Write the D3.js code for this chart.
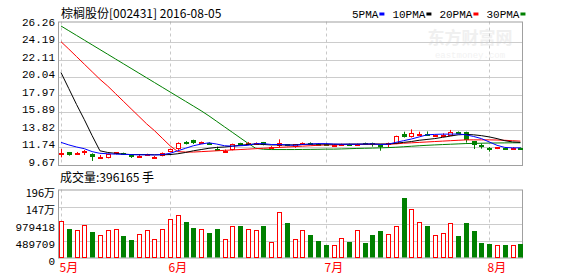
<!DOCTYPE html>
<html><head><meta charset="utf-8">
<script src="https://cdn.jsdelivr.net/npm/d3@7"></script>
<style>
html,body{margin:0;padding:0;background:#fff;}
svg{display:block;}
text{font-family:"Liberation Mono","DejaVu Sans Mono",monospace;}
.cjk{font-family:"Noto Sans CJK SC","Noto Sans",sans-serif;}
</style></head>
<body>
<svg id="c" width="578" height="276"></svg>
<script>
const title = "棕榈股份[002431] 2016-08-05";
const dates = ["05-12","05-13","05-16","05-17","05-18","05-19","05-20","05-23","05-24","05-25","05-26","05-27","05-30","05-31",
"06-01","06-02","06-03","06-06","06-07","06-08","06-13","06-14","06-15","06-16","06-17","06-20","06-21","06-22","06-23","06-24","06-27","06-28","06-29","06-30",
"07-01","07-04","07-05","07-06","07-07","07-08","07-11","07-12","07-13","07-14","07-15","07-18","07-19","07-20","07-21","07-22","07-25","07-26","07-27","07-28","07-29",
"08-01","08-02","08-03","08-04","08-05"];
const open  = [11.04,11.12,11.04,11.18,10.88,10.58,10.40,10.90,11.04,10.80,10.70,10.86,10.58,10.68,11.16,11.47,12.38,12.58,12.29,12.22,11.51,11.29,11.39,12.17,12.17,12.17,12.31,11.73,11.91,12.07,11.71,12.17,12.21,12.13,12.09,11.79,12.05,12.09,12.08,12.21,12.21,11.97,12.13,12.15,13.26,12.90,13.28,13.28,13.08,13.16,13.10,13.52,13.50,12.42,11.99,11.59,11.55,11.68,11.62,11.66];
const high  = [11.51,11.16,11.16,11.39,11.00,10.80,10.92,11.14,11.08,10.84,10.90,10.95,10.68,11.10,11.55,12.30,12.45,12.62,12.40,12.30,11.79,11.45,12.15,12.25,12.35,12.30,12.35,11.85,12.66,12.10,12.10,12.30,12.30,12.20,12.15,12.07,12.15,12.15,12.15,12.27,12.27,11.99,12.27,13.10,13.57,13.85,13.57,13.60,13.20,13.38,13.78,13.60,13.57,12.45,12.19,11.75,11.75,11.75,11.72,11.70];
const low   = [10.52,10.72,11.00,10.80,10.09,10.40,10.40,10.88,10.90,10.45,10.60,10.80,10.55,10.64,11.12,11.40,12.05,12.10,12.20,12.10,11.28,11.20,11.35,12.05,12.10,12.10,11.95,11.65,11.75,11.85,11.65,12.10,12.10,12.05,12.00,11.75,12.00,12.00,12.02,12.10,11.79,11.31,11.71,12.10,12.88,12.88,13.06,13.06,13.00,13.10,13.08,13.40,12.27,11.51,11.55,11.20,11.50,11.55,11.52,11.55];
const close = [11.08,10.76,11.08,11.22,10.52,10.62,10.88,11.12,10.96,10.55,10.74,10.90,10.62,11.08,11.47,12.19,12.11,12.19,12.33,12.17,11.31,11.33,12.11,12.13,12.21,12.21,11.99,11.77,12.27,11.87,12.07,12.21,12.17,12.09,12.05,12.03,12.09,12.05,12.11,12.17,12.17,11.93,12.17,13.06,12.90,13.42,13.32,13.24,13.12,13.20,13.50,13.48,12.58,12.03,11.87,11.43,11.71,11.62,11.66,11.60];
const volume = [1047000,816000,778000,922000,730000,634000,778000,807000,615000,499000,691000,778000,519000,835000,1095000,1210000,1018000,845000,807000,711000,816000,547000,893000,903000,835000,778000,903000,442000,1325000,999000,547000,778000,643000,470000,355000,374000,576000,442000,778000,413000,643000,759000,691000,893000,1709000,1411000,1037000,903000,634000,720000,1008000,615000,989000,759000,413000,384000,374000,355000,374000,396165];
const volUp = [1,0,1,1,0,1,1,1,0,0,1,1,1,1,1,1,0,0,1,0,0,1,1,0,1,1,0,1,1,0,1,1,0,0,0,1,1,0,1,0,0,0,1,1,0,1,1,0,1,1,1,0,0,0,0,0,1,0,1,0];
const ma5  = [12.30,12.00,11.75,11.55,11.20,11.00,10.95,10.90,10.88,10.85,10.82,10.82,10.80,10.85,11.00,11.30,11.60,11.90,12.10,12.25,12.10,11.90,11.85,11.90,11.95,12.15,12.15,12.05,12.05,12.00,11.95,12.05,12.10,12.15,12.15,12.10,12.08,12.08,12.08,12.10,12.12,12.05,12.08,12.30,12.50,12.70,12.95,13.20,13.25,13.28,13.28,13.30,13.20,13.00,12.75,12.35,11.95,11.70,11.65,11.65];
const ma10 = [20.60,18.70,16.80,15.00,13.10,11.30,11.10,11.00,10.90,10.85,10.85,10.85,10.83,10.83,10.85,10.95,11.10,11.30,11.45,11.60,11.70,11.75,11.85,11.95,12.05,12.10,12.05,12.00,12.00,12.00,12.00,12.05,12.08,12.10,12.10,12.08,12.08,12.10,12.10,12.10,12.10,12.10,12.10,12.20,12.30,12.40,12.55,12.65,12.75,12.90,13.05,13.20,13.25,13.20,13.10,12.95,12.75,12.50,12.35,12.30];
const ma20 = [24.27,23.40,22.50,21.60,20.70,19.80,19.00,18.10,17.20,16.30,15.40,14.50,13.70,12.80,11.90,11.20,11.15,11.15,11.20,11.25,11.30,11.35,11.40,11.45,11.50,11.55,11.60,11.65,11.70,11.75,11.80,11.85,11.90,11.95,12.00,12.00,12.02,12.05,12.05,12.07,12.08,12.08,12.08,12.12,12.20,12.25,12.30,12.35,12.40,12.45,12.50,12.55,12.60,12.60,12.60,12.60,12.58,12.55,12.50,12.45];
const ma30 = [26.14,25.58,25.02,24.46,23.90,23.34,22.78,22.22,21.66,21.10,20.54,19.98,19.42,18.86,18.30,17.74,17.18,16.62,16.06,15.45,14.80,14.15,13.50,12.85,12.20,11.60,11.48,11.45,11.45,11.45,11.45,11.46,11.47,11.48,11.50,11.50,11.52,11.55,11.58,11.60,11.62,11.65,11.68,11.72,11.78,11.84,11.90,11.95,12.00,12.04,12.08,12.12,12.16,12.18,12.20,12.22,12.23,12.24,12.25,12.25];
const priceTicks = [9.67,11.74,13.82,15.89,17.97,20.04,22.11,24.19,26.26];
const volTicks = [0,489709,979418,1469127,1958836];
const volTickLabels = ["0","489709","979418","147万","196万"];
const monthLabels = [{d:"05-12",t:"5月"},{d:"06-01",t:"6月"},{d:"07-01",t:"7月"},{d:"08-01",t:"8月"}];
const legend = [{t:"5PMA",c:"#0000ff"},{t:"10PMA",c:"#000000"},{t:"20PMA",c:"#ff0000"},{t:"30PMA",c:"#008000"}];
const lastVolText = "成交量:396165 手";

const svg = d3.select("#c");
const L = 58, R = 522;
const pTop = 21.5, pBot = 165;
const vTop = 189.5, vBot = 257.5;
const RED = "#ff0000", GREEN = "#008000", GRID = "#cccccc", FRAME = "#a0a0a0";

const x = d3.scalePoint().domain(dates).range([61, 520.4]);
const y = d3.scaleLinear().domain([9.67, 26.26]).range([164.5, 25]);
const yv = d3.scaleLinear().domain([0, 1958836]).range([vBot, vTop]);

// watermark
svg.append("text").attr("class","cjk").attr("x",470).attr("y",44).attr("text-anchor","middle")
  .attr("font-size",17).attr("font-weight","bold").attr("fill","#f0f0f0").text("东方财富网");
svg.append("text").attr("x",470).attr("y",58).attr("text-anchor","middle")
  .attr("font-size",9).attr("fill","#f2f2f2").text("eastmoney.com");

// price gridlines
svg.append("g").selectAll("line").data(priceTicks.slice(1,-1)).join("line")
  .attr("x1",L).attr("x2",R).attr("y1",d=>Math.round(y(d))+0.5).attr("y2",d=>Math.round(y(d))+0.5)
  .attr("stroke",GRID);
svg.append("g").selectAll("line").data(volTicks.slice(1,-1)).join("line")
  .attr("x1",L).attr("x2",R).attr("y1",d=>Math.round(yv(d))+0.5).attr("y2",d=>Math.round(yv(d))+0.5)
  .attr("stroke",GRID);
// month dashed lines
monthLabels.forEach(m=>{
  const xx = Math.round(x(m.d))+0.5;
  [[pTop,pBot],[vTop,vBot]].forEach(([a,b])=>{
    svg.append("line").attr("x1",xx).attr("x2",xx).attr("y1",a).attr("y2",b)
      .attr("stroke","#c8c8c8").attr("stroke-dasharray","3,3");
  });
  svg.append("text").attr("class","cjk").attr("x",xx-2).attr("y",272).attr("font-size",12)
    .attr("fill",RED).text(m.t);
});
// frames
svg.append("rect").attr("x",L+0.5).attr("y",pTop+0.5).attr("width",R-L).attr("height",pBot-pTop)
  .attr("fill","none").attr("stroke",FRAME);
svg.append("rect").attr("x",L+0.5).attr("y",vTop+0.5).attr("width",R-L).attr("height",vBot-vTop)
  .attr("fill","none").attr("stroke",FRAME);

// axis labels
svg.append("g").selectAll("text").data(priceTicks).join("text")
  .attr("x",55).attr("y",d=>y(d)+1).attr("text-anchor","end").attr("font-size",11).attr("fill","#000")
  .text(d=>d.toFixed(2));
svg.append("g").selectAll("text").data(volTicks).join("text")
  .attr("class",(d,i)=>volTickLabels[i].includes("万")?"cjk":null)
  .attr("x",55).attr("y",d=>yv(d)+7).attr("text-anchor","end").attr("font-size",11).attr("fill","#000")
  .text((d,i)=>volTickLabels[i]);

// candles
const data = dates.map((d,i)=>({d,o:open[i],h:high[i],l:low[i],c:close[i],v:volume[i],up:volUp[i]}));
const bw = 5;
const cg = svg.append("g");
data.forEach(k=>{
  const cx = Math.round(x(k.d));
  const col = k.c>=k.o ? RED : GREEN;
  const top = Math.round(y(Math.max(k.o,k.c))), bot = Math.round(y(Math.min(k.o,k.c)));
  cg.append("line").attr("x1",cx+0.5).attr("x2",cx+0.5).attr("y1",y(k.h)).attr("y2",y(k.l)).attr("stroke",col);
  const h = Math.max(bot-top,1);
  if(k.c>=k.o){
    if(h<=2){
      cg.append("rect").attr("x",cx-2).attr("y",top).attr("width",bw).attr("height",Math.max(h,1)+ (h<2?1:0)).attr("fill",col);
    } else {
      cg.append("rect").attr("x",cx-1.5).attr("y",top+0.5).attr("width",bw-1).attr("height",h-1)
        .attr("fill","#fff").attr("stroke",col);
    }
  } else {
    cg.append("rect").attr("x",cx-2).attr("y",top).attr("width",bw).attr("height",Math.max(h,2)).attr("fill",col);
  }
});

// MA lines
const line = d3.line().x((v,i)=>x(dates[i])).y(v=>y(v));
[[ma30,"#008000"],[ma20,"#ff0000"],[ma10,"#000000"],[ma5,"#0000ff"]].forEach(([arr,c])=>{
  svg.append("path").attr("d",line(arr)).attr("fill","none").attr("stroke",c).attr("stroke-width",1);
});

// volume bars
svg.append("g").selectAll("rect").data(data).join("rect")
  .attr("x",d=>Math.round(x(d.d))-2+ (d.up?0.5:0))
  .attr("y",d=>Math.round(yv(d.v))+(d.up?0.5:0))
  .attr("width",d=>d.up?bw-1:bw)
  .attr("height",d=>vBot-Math.round(yv(d.v))-(d.up?0.5:0))
  .attr("fill",d=>d.up?"#fff":GREEN)
  .attr("stroke",d=>d.up?RED:"none");

// title
svg.append("text").attr("class","cjk").attr("x",61).attr("y",18).attr("font-size",12).attr("fill","#000").text(title);
svg.append("text").attr("class","cjk").attr("x",60).attr("y",182).attr("font-size",12).attr("fill","#000").text(lastVolText);

// legend
let lx = 352;
const lg = svg.append("g");
legend.forEach(it=>{
  const t = lg.append("text").attr("x",lx).attr("y",18).attr("font-size",11).attr("fill","#000").text(it.t);
  const w = t.node().getComputedTextLength();
  lg.append("rect").attr("x",lx+w+1).attr("y",12.5).attr("width",5).attr("height",3).attr("fill",it.c);
  lx += w + 14;
});
</script>
</body></html>
